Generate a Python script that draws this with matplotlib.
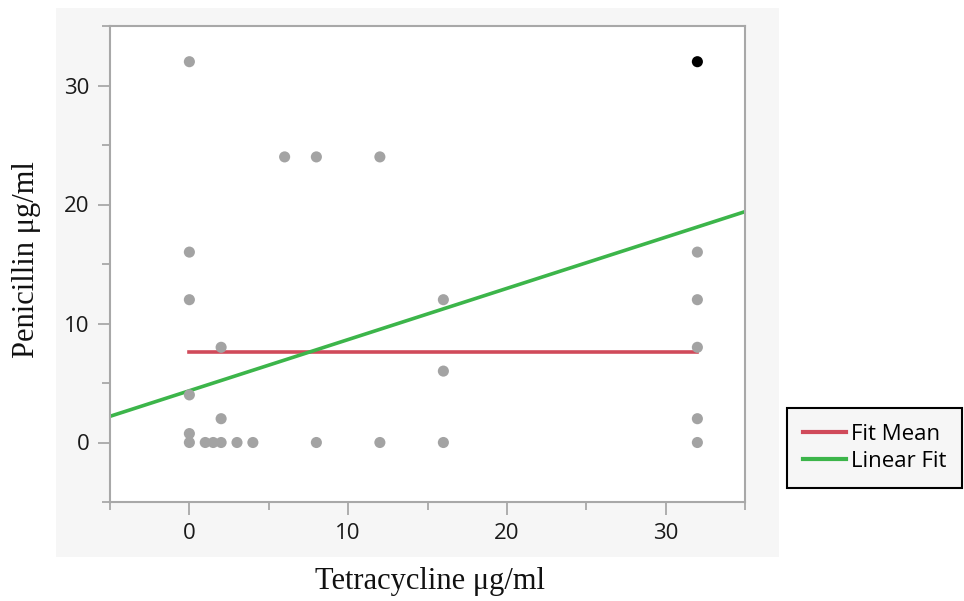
import matplotlib
matplotlib.use("Agg")
import matplotlib.pyplot as plt
from matplotlib.patches import Rectangle
from matplotlib.lines import Line2D

# data
tetracycline = [0, 0, 0, 0, 0, 0, 1, 1.5, 2, 2, 2, 3, 4, 6, 8, 8, 12, 12,
                16, 16, 16, 32, 32, 32, 32, 32]
penicillin = [32, 16, 12, 4, 0.75, 0, 0, 0, 0, 2, 8, 0, 0, 24, 24, 0, 24, 0,
              12, 6, 0, 16, 12, 8, 2, 0]
selected_x = [32]
selected_y = [32]

fit_mean = 7.62
lin_intercept = 4.35
lin_slope = 0.43
x_min_data, x_max_data = 0, 32

fig = plt.figure(figsize=(9.64, 6.01), dpi=100)
fig.patch.set_facecolor("white")

# light gray panel behind the plot
fig.patches.append(Rectangle((56 / 964, 1 - 557 / 601), (779 - 56) / 964, (557 - 8) / 601,
                             transform=fig.transFigure, facecolor="#f6f6f6",
                             edgecolor="none", zorder=-10))

ax = fig.add_axes([110 / 964, 1 - 502 / 601, (745 - 110) / 964, (502 - 26) / 601])
ax.set_facecolor("white")

ax.scatter(tetracycline, penicillin, s=64, color="#a3a3a3", edgecolor="none", zorder=3)
ax.scatter(selected_x, selected_y, s=64, color="black", edgecolor="none", zorder=4)

red = "#d04a5a"
green = "#3cb54a"
ax.plot([x_min_data, x_max_data], [fit_mean, fit_mean], color=red, lw=2.6, zorder=2)
xs = [-5, 35]
ax.plot(xs, [lin_intercept + lin_slope * v for v in xs], color=green, lw=2.6, zorder=2)

ax.set_xlim(-5, 35)
ax.set_ylim(-5, 35)
ax.set_xticks([0, 10, 20, 30])
ax.set_xticks([-5, 5, 15, 25, 35], minor=True)
ax.set_yticks([0, 10, 20, 30])
ax.set_yticks([-5, 5, 15, 25, 35], minor=True)

for s in ax.spines.values():
    s.set_color("#a8a8a8")
    s.set_linewidth(1.5)

ax.tick_params(which="both", color="#a8a8a8", width=1.3, direction="out")
ax.tick_params(which="major", length=9, labelsize=16, pad=6, labelcolor="#1a1a1a")
ax.tick_params(which="minor", length=6)
for lab in ax.get_xticklabels() + ax.get_yticklabels():
    lab.set_family("Open Sans")

fig.text(430 / 964, 1 - 582 / 601, "Tetracycline μg/ml", ha="center", va="center",
         family="Liberation Serif", fontsize=22, color="#111111")
fig.text(27 / 964, 1 - 260 / 601, "Penicillin μg/ml", ha="center", va="center",
         rotation=90, family="Liberation Serif", fontsize=22, color="#111111")

# legend box outside the plot
handles = [Line2D([], [], color=red, lw=3), Line2D([], [], color=green, lw=3)]
leg = fig.legend(handles, ["Fit Mean", "Linear Fit"], loc="upper left",
                 bbox_to_anchor=(787 / 964, 1 - 408 / 601), borderaxespad=0,
                 frameon=True, fancybox=False, edgecolor="black", facecolor="#f6f6f6",
                 prop={"family": "Open Sans", "size": 16}, handlelength=1.95,
                 handletextpad=0.2, borderpad=0.72, labelspacing=0.28)
leg.get_frame().set_linewidth(1.5)
leg.get_frame().set_alpha(1)

fig.savefig("out.png", dpi=100)
